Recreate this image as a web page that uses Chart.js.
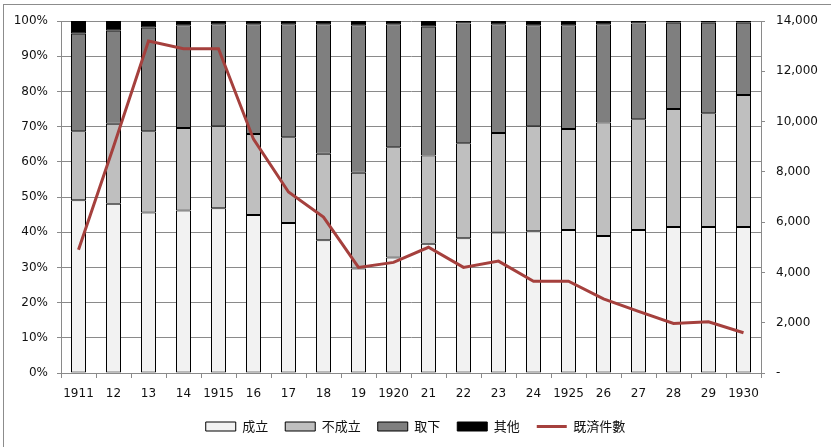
<!DOCTYPE html>
<html>
<head>
<meta charset="utf-8">
<script src="https://cdn.jsdelivr.net/npm/chart.js@4.4.1/dist/chart.umd.min.js"></script>
<style>
  html, body { margin: 0; padding: 0; background: #fff; }
  canvas { display: block; }
</style>
</head>
<body>
<canvas id="chart" width="831" height="447"></canvas>
<script>
// years on the x axis
const years = ['1911', '12', '13', '14', '1915', '16', '17', '18', '19', '1920',
  '21', '22', '23', '24', '1925', '26', '27', '28', '29', '1930'];

// share of cases (%)
const seiritsu = [49.1, 48.1, 45.6, 46.2, 46.8, 44.9, 42.6, 37.7, 29.7, 32.8,
  36.7, 38.3, 39.9, 40.3, 40.6, 38.9, 40.6, 41.5, 41.5, 41.5];
const fuseiritsu = [19.6, 22.7, 23.1, 23.4, 23.3, 23.0, 24.4, 24.6, 27.2, 31.3,
  25.1, 27.0, 28.3, 29.8, 28.7, 32.3, 31.5, 33.5, 32.3, 37.5];
const torisage = [27.7, 26.4, 29.4, 29.2, 29.0, 31.2, 32.1, 36.8, 41.9, 35.0,
  36.6, 34.0, 30.9, 28.7, 29.5, 27.9, 27.2, 24.5, 25.7, 20.5];
const sonota = [3.6, 2.8, 1.9, 1.2, 0.9, 0.9, 0.9, 0.9, 1.2, 0.9,
  1.6, 0.7, 0.9, 1.2, 1.2, 0.9, 0.7, 0.5, 0.5, 0.5];

// number of settled cases (right axis)
const kisai = [4900, 9000, 13200, 12900, 12900, 9300, 7200, 6200, 4200, 4400,
  5000, 4200, 4450, 3650, 3650, 2950, 2450, 1970, 2040, 1600];

const tickFont = { family: 'DejaVu Sans', size: 12 };
const gridColor = '#8a8a8a';

// outer frame of the chart
const frame = {
  id: 'frame',
  beforeDraw(chart) {
    const ctx = chart.ctx;
    ctx.save();
    ctx.fillStyle = '#fff';
    ctx.fillRect(0, 0, chart.width, chart.height);
    ctx.strokeStyle = '#8c8c8c';
    ctx.lineWidth = 1;
    ctx.strokeRect(3.5, 4.5, chart.width + 10, chart.height + 10);
    ctx.restore();
  }
};

const barSet = (label, data, color) => ({
  type: 'bar',
  label: label,
  data: data,
  backgroundColor: color,
  borderColor: '#000',
  borderWidth: 1,
  borderSkipped: false,
  barPercentage: 15 / 35,
  categoryPercentage: 1,
  yAxisID: 'y',
  order: 1
});

new Chart(document.getElementById('chart'), {
  data: {
    labels: years,
    datasets: [
      barSet('成立', seiritsu, '#f2f2f2'),
      barSet('不成立', fuseiritsu, '#bfbfbf'),
      barSet('取下', torisage, '#7f7f7f'),
      barSet('其他', sonota, '#000000'),
      {
        type: 'line',
        label: '既済件數',
        data: kisai,
        borderColor: '#a5403d',
        backgroundColor: '#a5403d',
        borderWidth: 3,
        pointRadius: 0,
        tension: 0,
        yAxisID: 'y1',
        order: 0
      }
    ]
  },
  options: {
    responsive: false,
    animation: false,
    layout: { padding: { top: 21, left: 0, right: 0, bottom: 4 } },
    plugins: {
      tooltip: { enabled: false },
      legend: {
        position: 'bottom',
        labels: {
          color: '#111',
          font: { family: 'Noto Sans CJK JP', size: 13 },
          usePointStyle: true,
          pointStyleWidth: 30,
          boxHeight: 9,
          padding: 17,
          sort: (a, b) => a.datasetIndex - b.datasetIndex,
          generateLabels(chart) {
            const items = Chart.defaults.plugins.legend.labels.generateLabels(chart);
            items.forEach(it => {
              it.pointStyle = it.datasetIndex === 4 ? 'line' : 'rect';
            });
            return items;
          }
        }
      }
    },
    scales: {
      x: {
        stacked: true,
        offset: true,
        grid: {
          offset: true,
          drawOnChartArea: false,
          drawTicks: true,
          tickLength: 5,
          color: gridColor
        },
        border: { color: gridColor },
        ticks: { font: tickFont, color: '#111', padding: 9, maxRotation: 0, autoSkip: false },
        afterFit(scale) { scale.height = 30; }
      },
      y: {
        stacked: true,
        position: 'left',
        min: 0,
        max: 100,
        grid: { color: gridColor, tickLength: 4 },
        border: { color: gridColor },
        ticks: {
          stepSize: 10,
          font: tickFont,
          color: '#111',
          padding: 9,
          callback: v => v + '%'
        },
        afterFit(scale) { scale.width = 61; }
      },
      y1: {
        position: 'right',
        min: 0,
        max: 14000,
        grid: { drawOnChartArea: false, color: gridColor, tickLength: 4 },
        border: { color: gridColor },
        ticks: {
          stepSize: 2000,
          font: tickFont,
          color: '#111',
          padding: 11,
          callback: v => v === 0 ? '-' : v.toLocaleString('en-US')
        },
        afterFit(scale) { scale.width = 70; }
      }
    }
  },
  plugins: [frame]
});
</script>
</body>
</html>
